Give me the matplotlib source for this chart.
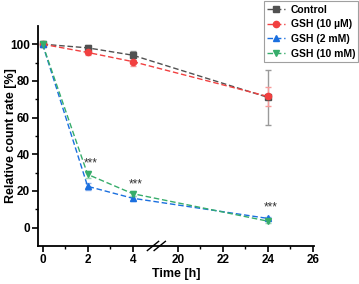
import numpy as np
import matplotlib
matplotlib.use("Agg")
import matplotlib.pyplot as plt

plt.rcParams['font.family'] = ['Liberation Sans', 'DejaVu Sans']
plt.rcParams['font.weight'] = 'bold'

# dane
time_h = [0, 2, 4, 24]
labels = ['Control', 'GSH (10 µM)', 'GSH (2 mM)', 'GSH (10 mM)']
control = [100, 98, 94, 71]
control_err = [0.8, 1.5, 2.5, 14.8]
gsh10u = [100, 95.5, 90.5, 71.5]
gsh10u_err = [0.8, 1.2, 2.5, 5.2]
gsh2m = [100, 22.5, 16, 5]
gsh2m_err = [0.8, 2.0, 1.5, 1.0]
gsh10m = [100, 29, 18.5, 3.5]
gsh10m_err = [0.8, 2.0, 1.5, 1.0]
star_x = [2, 4, 24]
star_y = [31.5, 20.5, 7.5]
xticks = [0, 2, 4, 20, 22, 24, 26]

colors = ['#515151', '#F14040', '#1A6FDF', '#37AD6B']
ecolors = ['#9a9a9a', '#f79a9a', '#8fb4ee', '#9ad6b4']
markers = ['s', 'o', '^', 'v']

# przerwa na osi: 5 -> 19
def mapx(x):
    x = np.asarray(x, dtype=float)
    return np.where(x > 5, x - 14, x)

fig = plt.figure(figsize=(3.59, 2.84), dpi=100)
ax = fig.add_axes([0.106, 0.134, 0.769, 0.775])

series = [control, gsh10u, gsh2m, gsh10m]
errs = [control_err, gsh10u_err, gsh2m_err, gsh10m_err]
handles = []
for y, e, c, ec, m, lab in zip(series, errs, colors, ecolors, markers, labels):
    cont = ax.errorbar(mapx(time_h), y, yerr=e, color=c, ecolor=ec, marker=m,
                       markersize=4.5, linestyle=(0, (4, 2)), linewidth=1,
                       elinewidth=1, capsize=2, capthick=1, label=lab)
    handles.append(cont[0])

for sx, sy in zip(star_x, star_y):
    ax.text(mapx(sx) + 0.12, sy, '***', ha='center', va='bottom', fontsize=8.5,
            fontweight='normal', color='#333333')

ax.set_xlim(-0.2, 12.05)
ax.set_ylim(-10, 110)
ax.set_xticks(mapx(xticks))
ax.set_xticklabels([str(t) for t in xticks])
ax.set_xticks(mapx([1, 3, 21, 23, 25]), minor=True)
ax.set_yticks([0, 20, 40, 60, 80, 100])
ax.set_yticks([10, 30, 50, 70, 90], minor=True)
ax.tick_params(axis='both', which='major', length=4, width=1.2, labelsize=8.5, pad=2)
ax.tick_params(axis='both', which='minor', length=2, width=1)
for lab in ax.get_xticklabels() + ax.get_yticklabels():
    lab.set_fontweight('bold')
ax.spines['top'].set_visible(False)
ax.spines['right'].set_visible(False)
ax.spines['left'].set_linewidth(1.3)
ax.spines['bottom'].set_linewidth(1.3)

# znak przerwy //
bx = mapx(5.0)
ax.plot([bx - 0.35, bx + 0.15], [-12.5, -7.5], color='black', lw=1, clip_on=False)
ax.plot([bx - 0.05, bx + 0.45], [-12.5, -7.5], color='black', lw=1, clip_on=False)

ax.set_xlabel('Time [h]', fontsize=9, fontweight='bold', labelpad=1)
ax.set_ylabel('Relative count rate [%]', fontsize=9, fontweight='bold')
ax.yaxis.set_label_coords(-0.076, 0.5)

leg = fig.legend(handles, labels, loc='upper right', bbox_to_anchor=(0.998, 0.995),
                 fontsize=7.5, frameon=True, fancybox=False, edgecolor='#888888',
                 handlelength=1.8, handletextpad=0.5, borderpad=0.3,
                 labelspacing=0.45, borderaxespad=0)
leg.get_frame().set_linewidth(0.8)
for t in leg.get_texts():
    t.set_fontweight('bold')

fig.savefig('out.png', dpi=100)
